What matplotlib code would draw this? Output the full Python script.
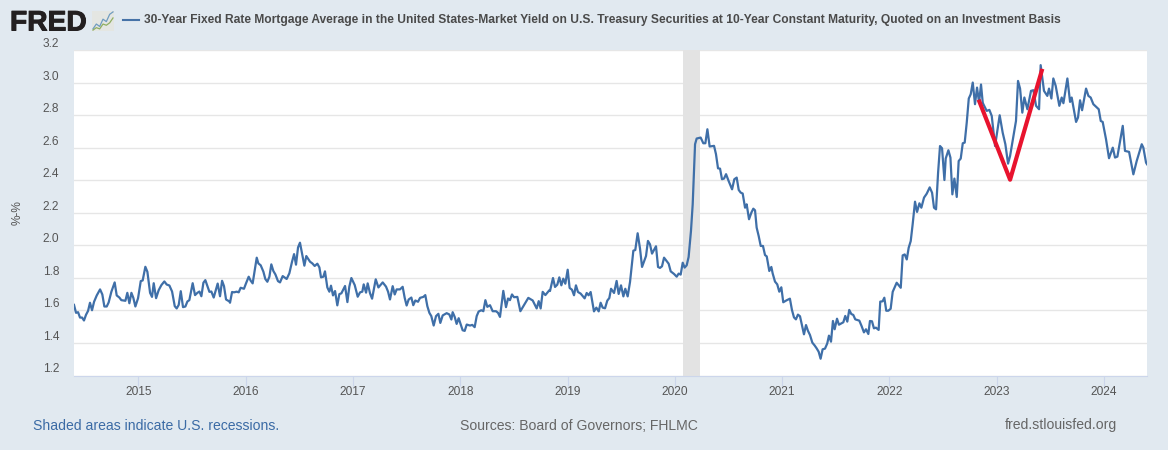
import matplotlib
matplotlib.use("Agg")
import matplotlib.pyplot as plt
import matplotlib.patheffects as pe

# decimal years / spread in percent
years = [
    2014.400, 2014.419, 2014.438, 2014.456, 2014.475, 2014.493, 2014.512, 2014.531, 2014.549, 2014.568,
    2014.587, 2014.612, 2014.643, 2014.664, 2014.683, 2014.705, 2014.723, 2014.748, 2014.779, 2014.798,
    2014.823, 2014.841, 2014.879, 2014.897, 2014.916, 2014.935, 2014.953, 2014.972, 2014.997, 2015.022,
    2015.040, 2015.065, 2015.084, 2015.109, 2015.127, 2015.143, 2015.165, 2015.189, 2015.214, 2015.242,
    2015.264, 2015.289, 2015.314, 2015.339, 2015.357, 2015.376, 2015.395, 2015.416, 2015.438, 2015.457,
    2015.475, 2015.506, 2015.528, 2015.550, 2015.569, 2015.587, 2015.606, 2015.624, 2015.662, 2015.680,
    2015.702, 2015.739, 2015.761, 2015.780, 2015.798, 2015.817, 2015.848,
    2015.854, 2015.873, 2015.891, 2015.916, 2015.935, 2015.953, 2015.984, 2016.003, 2016.028, 2016.047,
    2016.065, 2016.103, 2016.118, 2016.140, 2016.165, 2016.183, 2016.202, 2016.221, 2016.239, 2016.258,
    2016.277, 2016.301, 2016.320, 2016.345, 2016.382, 2016.407, 2016.432, 2016.451, 2016.469, 2016.488,
    2016.506, 2016.525, 2016.547, 2016.565, 2016.600, 2016.621, 2016.643, 2016.668, 2016.687, 2016.702,
    2016.724, 2016.739, 2016.761, 2016.780, 2016.795, 2016.814, 2016.833, 2016.854, 2016.873, 2016.892,
    2016.926, 2016.948, 2016.966, 2016.985, 2017.016, 2017.044, 2017.066, 2017.087, 2017.100, 2017.122,
    2017.137, 2017.159, 2017.178, 2017.212, 2017.237, 2017.277, 2017.308, 2017.327,
    2017.345, 2017.370, 2017.389, 2017.407, 2017.438, 2017.463, 2017.482, 2017.500, 2017.519, 2017.544,
    2017.562, 2017.581, 2017.606, 2017.625, 2017.656, 2017.674, 2017.693, 2017.712, 2017.730, 2017.752,
    2017.774, 2017.796, 2017.814, 2017.836, 2017.873, 2017.898, 2017.917, 2017.929, 2017.948, 2017.966,
    2017.985, 2018.004, 2018.022, 2018.041, 2018.060, 2018.091, 2018.112, 2018.134, 2018.153, 2018.171,
    2018.196, 2018.215, 2018.234, 2018.252, 2018.277, 2018.302, 2018.333, 2018.352, 2018.370, 2018.401,
    2018.426, 2018.445, 2018.463, 2018.482, 2018.501, 2018.532, 2018.560, 2018.588, 2018.634, 2018.675,
    2018.712, 2018.731, 2018.749, 2018.768, 2018.793, 2018.830,
    2018.836, 2018.864, 2018.883, 2018.904, 2018.923, 2018.942, 2018.960, 2018.979, 2019.001, 2019.019,
    2019.041, 2019.060, 2019.078, 2019.097, 2019.122, 2019.159, 2019.178, 2019.196, 2019.215, 2019.246,
    2019.268, 2019.290, 2019.308, 2019.327, 2019.349, 2019.370, 2019.389, 2019.405, 2019.433, 2019.457,
    2019.476, 2019.498, 2019.520, 2019.538, 2019.560, 2019.582, 2019.613, 2019.631, 2019.653, 2019.675,
    2019.694, 2019.731, 2019.749, 2019.768, 2019.787, 2019.824, 2019.843, 2019.861, 2019.880, 2019.899,
    2019.924, 2019.942, 2019.961, 2019.992, 2020.017, 2020.035, 2020.054, 2020.073, 2020.091, 2020.110,
    2020.128, 2020.141,
    2020.150, 2020.166, 2020.178, 2020.188, 2020.203, 2020.240, 2020.265, 2020.284, 2020.303, 2020.324,
    2020.365, 2020.383, 2020.402, 2020.421, 2020.439, 2020.458, 2020.477, 2020.501, 2020.533, 2020.554,
    2020.576, 2020.595, 2020.613, 2020.632, 2020.654, 2020.669, 2020.691, 2020.713, 2020.731, 2020.747,
    2020.762, 2020.781, 2020.800, 2020.821, 2020.840, 2020.856, 2020.880, 2020.899,
    2020.911, 2020.933, 2020.954, 2020.973, 2020.992, 2021.010, 2021.041, 2021.072, 2021.091, 2021.110,
    2021.128, 2021.147, 2021.166, 2021.184, 2021.203, 2021.222, 2021.240, 2021.259, 2021.281, 2021.302,
    2021.321, 2021.340, 2021.358, 2021.377, 2021.399, 2021.420, 2021.436, 2021.455, 2021.473, 2021.489,
    2021.511, 2021.529, 2021.551, 2021.570, 2021.588, 2021.607, 2021.625, 2021.644, 2021.663, 2021.681,
    2021.719, 2021.740, 2021.762, 2021.781, 2021.803, 2021.818, 2021.837, 2021.855, 2021.874, 2021.899,
    2021.914, 2021.936, 2021.952, 2021.970, 2021.989,
    2022.011, 2022.030, 2022.067, 2022.105, 2022.123, 2022.142, 2022.161, 2022.179, 2022.198, 2022.216,
    2022.238, 2022.257, 2022.279, 2022.297, 2022.322, 2022.347, 2022.375, 2022.397, 2022.415, 2022.434,
    2022.453, 2022.471, 2022.490, 2022.512, 2022.524, 2022.549, 2022.568, 2022.586, 2022.605, 2022.627,
    2022.645, 2022.664, 2022.683, 2022.701, 2022.720, 2022.739, 2022.757, 2022.776, 2022.797, 2022.816,
    2022.835, 2022.853, 2022.869,
    2022.875, 2022.906, 2022.931, 2022.953, 2022.984, 2023.027, 2023.055, 2023.080, 2023.105, 2023.124,
    2023.155, 2023.179, 2023.198, 2023.217, 2023.238, 2023.257, 2023.285, 2023.319, 2023.341, 2023.366,
    2023.394, 2023.409, 2023.440, 2023.471, 2023.487, 2023.509, 2023.527, 2023.549, 2023.583, 2023.605,
    2023.621, 2023.658, 2023.683, 2023.698, 2023.739, 2023.757, 2023.776, 2023.795, 2023.832, 2023.854,
    2023.875, 2023.900, 2023.950, 2023.969, 2023.987, 2024.018, 2024.046, 2024.081, 2024.102, 2024.124,
    2024.174, 2024.195, 2024.233, 2024.273, 2024.304, 2024.351, 2024.366, 2024.391, 2024.400,
]
spread = [
    1.634, 1.585, 1.589, 1.556, 1.556, 1.538, 1.573, 1.597, 1.647, 1.601,
    1.653, 1.692, 1.729, 1.698, 1.624, 1.624, 1.649, 1.714, 1.772, 1.692,
    1.679, 1.663, 1.659, 1.708, 1.644, 1.708, 1.677, 1.624, 1.675, 1.780,
    1.784, 1.868, 1.837, 1.708, 1.683, 1.767, 1.675, 1.724, 1.755, 1.778,
    1.759, 1.753, 1.716, 1.626, 1.612, 1.634, 1.718, 1.620, 1.624, 1.655,
    1.663, 1.767, 1.694, 1.708, 1.716, 1.687, 1.770, 1.786, 1.714, 1.716,
    1.679, 1.765, 1.687, 1.782, 1.749, 1.667, 1.655,
    1.647, 1.713, 1.711, 1.715, 1.711, 1.739, 1.733, 1.766, 1.807, 1.782,
    1.766, 1.924, 1.889, 1.877, 1.838, 1.793, 1.776, 1.807, 1.883, 1.842,
    1.821, 1.780, 1.772, 1.811, 1.793, 1.828, 1.899, 1.946, 1.881, 1.987,
    2.016, 1.951, 1.875, 1.934, 1.899, 1.889, 1.873, 1.887, 1.864, 1.803,
    1.807, 1.840, 1.741, 1.715, 1.752, 1.692, 1.719, 1.631, 1.700, 1.705,
    1.750, 1.651, 1.746, 1.799, 1.756, 1.684, 1.711, 1.715, 1.760, 1.709,
    1.766, 1.705, 1.672, 1.791, 1.741, 1.772, 1.746, 1.715,
    1.667, 1.749, 1.698, 1.729, 1.729, 1.745, 1.677, 1.630, 1.667, 1.679,
    1.632, 1.661, 1.653, 1.677, 1.683, 1.694, 1.626, 1.585, 1.565, 1.507,
    1.565, 1.579, 1.523, 1.569, 1.583, 1.575, 1.544, 1.589, 1.560, 1.517,
    1.552, 1.513, 1.478, 1.474, 1.513, 1.507, 1.511, 1.497, 1.565, 1.593,
    1.601, 1.595, 1.663, 1.622, 1.632, 1.595, 1.595, 1.585, 1.560, 1.720,
    1.620, 1.673, 1.663, 1.698, 1.681, 1.683, 1.595, 1.626, 1.677, 1.661,
    1.612, 1.657, 1.612, 1.714, 1.694, 1.724,
    1.719, 1.799, 1.744, 1.758, 1.803, 1.754, 1.795, 1.764, 1.850, 1.738,
    1.727, 1.693, 1.754, 1.713, 1.703, 1.674, 1.707, 1.693, 1.713, 1.594,
    1.617, 1.594, 1.647, 1.617, 1.613, 1.660, 1.676, 1.733, 1.707, 1.781,
    1.701, 1.754, 1.686, 1.733, 1.686, 1.775, 1.967, 1.971, 2.074, 1.980,
    1.867, 1.934, 2.027, 2.006, 1.949, 1.994, 1.867, 1.861, 1.871, 1.924,
    1.902, 1.887, 1.840, 1.824, 1.807, 1.826, 1.820, 1.893, 1.863, 1.877,
    1.928, 2.021,
    2.088, 2.252, 2.457, 2.621, 2.656, 2.662, 2.627, 2.627, 2.713, 2.607,
    2.611, 2.560, 2.473, 2.471, 2.406, 2.410, 2.437, 2.395, 2.344, 2.406,
    2.416, 2.340, 2.324, 2.318, 2.231, 2.252, 2.160, 2.201, 2.225, 2.215,
    2.109, 2.057, 1.996, 1.996, 1.940, 1.932, 1.842, 1.867,
    1.828, 1.777, 1.760, 1.715, 1.742, 1.650, 1.662, 1.672, 1.603, 1.557,
    1.545, 1.574, 1.564, 1.510, 1.453, 1.510, 1.475, 1.449, 1.402, 1.385,
    1.367, 1.346, 1.303, 1.361, 1.365, 1.397, 1.445, 1.408, 1.535, 1.484,
    1.549, 1.512, 1.520, 1.527, 1.566, 1.531, 1.603, 1.578, 1.572, 1.545,
    1.537, 1.504, 1.465, 1.484, 1.455, 1.535, 1.533, 1.490, 1.494, 1.480,
    1.654, 1.656, 1.678, 1.598, 1.598,
    1.610, 1.714, 1.770, 1.739, 1.938, 1.944, 1.913, 1.985, 2.026, 2.129,
    2.268, 2.205, 2.258, 2.231, 2.293, 2.317, 2.356, 2.323, 2.231, 2.221,
    2.446, 2.610, 2.596, 2.401, 2.533, 2.584, 2.539, 2.313, 2.410, 2.297,
    2.518, 2.533, 2.627, 2.631, 2.754, 2.902, 2.928, 3.000, 2.867, 2.969,
    2.877, 2.988, 2.877,
    2.867, 2.826, 2.832, 2.795, 2.610, 2.799, 2.692, 2.621, 2.502, 2.549,
    2.672, 2.764, 3.010, 2.963, 2.815, 2.908, 2.836, 2.949, 2.953, 2.857,
    2.836, 3.107, 2.949, 2.918, 2.963, 2.902, 3.025, 2.980, 2.857, 2.908,
    2.873, 3.025, 2.881, 2.908, 2.758, 2.785, 2.891, 2.830, 2.963, 2.918,
    2.908, 2.867, 2.836, 2.764, 2.758, 2.652, 2.535, 2.600, 2.539, 2.545,
    2.734, 2.580, 2.574, 2.436, 2.518, 2.621, 2.600, 2.508, 2.498,
]

# hand drawn red V on top of the line
v_years = [2022.838, 2023.124, 2023.419]
v_spread = [2.883, 2.403, 3.072]

recession_start = 2020.073
recession_end = 2020.234

year_ticks = [2015, 2016, 2017, 2018, 2019, 2020, 2021, 2022, 2023, 2024]
value_ticks = [1.2, 1.4, 1.6, 1.8, 2.0, 2.2, 2.4, 2.6, 2.8, 3.0, 3.2]

# little logo chart
logo_blue = [1, 3, 2, 5, 4, 7, 8]
logo_green = [0.5, 1.5, 1, 3, 2.5, 3.5, 5.5]

title = ("30-Year Fixed Rate Mortgage Average in the United States-Market Yield on U.S. Treasury "
         "Securities at 10-Year Constant Maturity, Quoted on an Investment Basis")

W, H = 1168, 450
bg = "#e1e9f0"
plt.rcParams["font.family"] = ["Liberation Sans", "DejaVu Sans"]

fig = plt.figure(figsize=(W / 100, H / 100), dpi=100, facecolor=bg)
ax = fig.add_axes([74 / W, 1 - 375.5 / H, (1147 - 74) / W, (375.5 - 50) / H])

ax.axvspan(recession_start, recession_end, color="#e3e3e3", lw=0, zorder=1)
ax.plot(years, spread, color="#3f6fa8", lw=1.6, zorder=3, solid_joinstyle="round")
ax.plot(v_years, v_spread, color="#e8132e", lw=3.0, zorder=4, solid_joinstyle="round")

ax.set_xlim(2014.4, 2024.4)
ax.set_ylim(1.2, 3.2)
ax.set_xticks(year_ticks)
ax.set_yticks(value_ticks)
ax.set_yticklabels(["%.1f" % v for v in value_ticks])
ax.grid(axis="y", color="#e6e6e6", lw=1.0, zorder=0)
ax.set_axisbelow(True)

for side in ["top", "left", "right"]:
    ax.spines[side].set_visible(False)
ax.spines["bottom"].set_color("#ccd6eb")
ax.tick_params(axis="x", length=7, color="#ccd6eb", labelsize=8.6, labelcolor="#555555", pad=0.5)
ax.tick_params(axis="y", length=0, labelsize=8.6, labelcolor="#555555", pad=10.5)
for lab in ax.get_yticklabels():
    lab.set_verticalalignment("bottom")
ax.set_ylabel("%-%", fontsize=8.6, color="#555555")
ax.yaxis.set_label_coords((24 - 74) / (1147 - 74), 0.5)

# header
fig.text(10 / W, 1 - 30.5 / H, "FRED", fontsize=20.3, fontweight="bold", color="#231f20", va="baseline",
         path_effects=[pe.withStroke(linewidth=0.7, foreground="#231f20")])
icon = fig.add_axes([92 / W, 1 - 31 / H, 22 / W, 20 / H], facecolor="#e4e6e2")
icon.plot(logo_blue, color="#6f9cc0", lw=0.9)
icon.plot(logo_green, color="#8fae62", lw=0.9)
icon.set_xticks([])
icon.set_yticks([])
for s in icon.spines.values():
    s.set_visible(False)

fig.add_artist(plt.Line2D([123 / W, 139 / W], [1 - 19.5 / H] * 2, color="#4572a7", lw=1.5))
fig.text(144 / W, 1 - 19.5 / H, title, fontsize=8.62, fontweight="bold", color="#4a4a4a", va="center")

# footer
fig.text(33 / W, 1 - 425.5 / H, "Shaded areas indicate U.S. recessions.", fontsize=10.05, color="#3b6ba5", va="center")
fig.text(460 / W, 1 - 425.5 / H, "Sources: Board of Governors; FHLMC", fontsize=10.05, color="#666666", va="center")
fig.text(1117.5 / W, 1 - 425.5 / H, "fred.stlouisfed.org", fontsize=10.05, color="#666666", va="center", ha="right")

fig.savefig("out.png", dpi=100, facecolor=bg)
